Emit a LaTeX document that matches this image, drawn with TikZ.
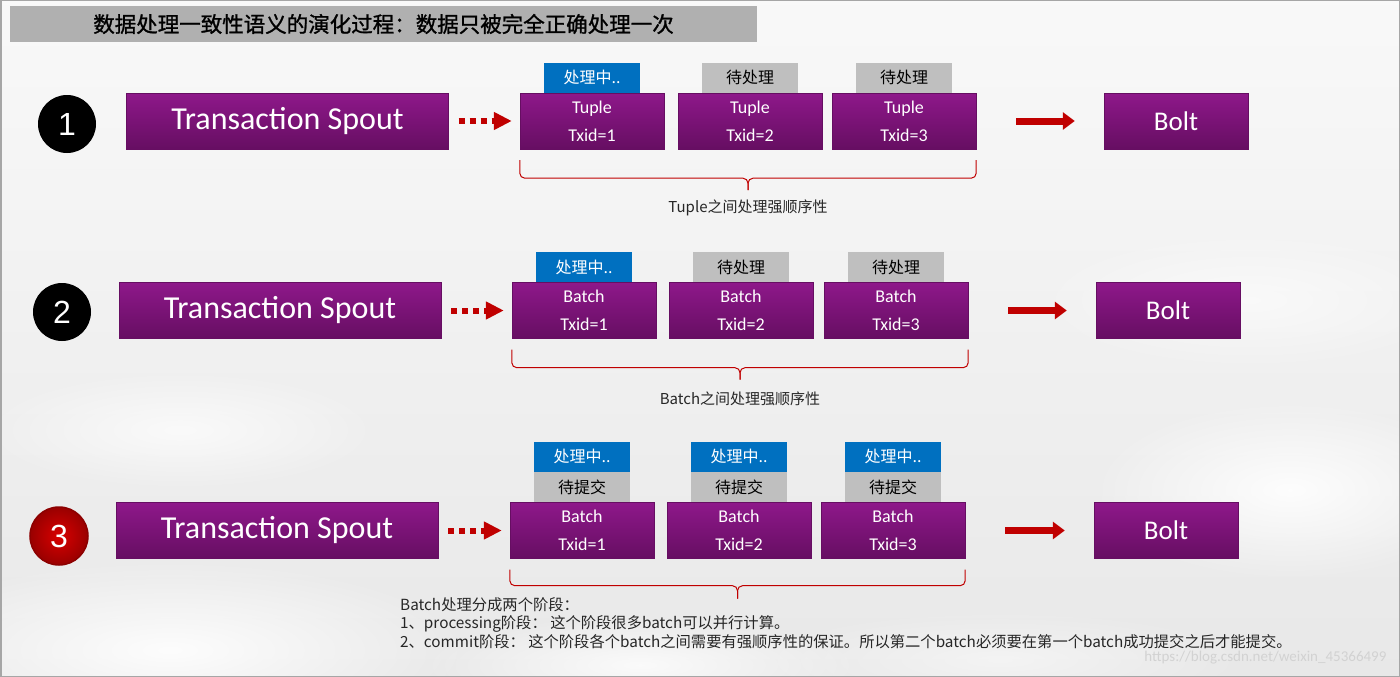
\documentclass[tikz,border=0pt]{standalone}
\usepackage{fontspec}
\setmainfont{Carlito}
\newfontfamily\cjk{Noto Sans CJK SC}
\newfontfamily\cjkhead[FakeBold=1.2]{Noto Sans CJK SC}
\newfontfamily\numfont{Liberation Sans}
\usepackage{xcolor}
\usepackage{tikz}
\usetikzlibrary{arrows.meta, positioning, calc, fadings}

\definecolor{purpTop}{RGB}{142,24,138}
\definecolor{purpBot}{RGB}{102,14,98}
\definecolor{tagBlue}{RGB}{0,112,192}
\definecolor{tagGray}{RGB}{191,191,191}
\definecolor{arrRed}{RGB}{192,0,0}
\definecolor{titleGray}{RGB}{176,176,176}

\tikzfading[name=cloudfade, inner color=transparent!0, outer color=transparent!100]

\begin{document}
\begin{tikzpicture}[x=1pt,y=1pt,
    purp/.style={draw=purpBot,line width=0.4pt,top color=purpTop,
                 bottom color=purpBot,text=white,inner sep=0pt},
    spout/.style={purp,minimum width=322pt,minimum height=56pt,
                  font=\fontsize{32}{32}\selectfont},
    bolt/.style={purp,minimum width=144pt,minimum height=56pt,
                 font=\fontsize{27}{27}\selectfont},
    unit/.style={purp,minimum width=144pt,minimum height=56pt,align=center,
                 font=\fontsize{18}{28}\selectfont},
    tag/.style={minimum width=96pt,minimum height=30pt,inner sep=0pt,
                font=\cjk\fontsize{16}{16}\selectfont},
    tagrun/.style={tag,fill=tagBlue,text=white},
    tagwait/.style={tag,fill=tagGray,text=black},
    num/.style={circle,minimum size=58pt,inner sep=0pt,text=white,
                font=\numfont\fontsize{32}{32}\selectfont},
    dotarr/.style={arrRed,line width=6pt,dash pattern=on 6pt off 5pt,
                   -{Triangle[length=18pt,width=17pt]},
                   shorten <=10pt,shorten >=8pt},
    boltarr/.style={arrRed,line width=7pt,-{Triangle[length=12pt,width=17pt]},
                    shorten <=40pt,shorten >=29pt},
    brace/.style={arrRed,line width=1pt,rounded corners=5pt},
    note/.style={font=\cjk\fontsize{15}{15}\selectfont,text=black!85},
    cloud/.style={white,path fading=cloudfade}
  ]
    % background, clouds and frame
    \useasboundingbox (0,0) rectangle (1400,-677);
    \fill[top color=gray!5,bottom color=gray!18] (0,0) rectangle (1400,-677);
    \begin{scope}
      \clip (0,0) rectangle (1400,-677);
      \fill[cloud,opacity=.9] (170,-650) ellipse [x radius=300,y radius=90];
      \fill[cloud,opacity=.7] (180,-430) ellipse [x radius=200,y radius=60];
      \fill[cloud,opacity=.8] (640,-665) ellipse [x radius=220,y radius=50];
      \fill[cloud,opacity=.9] (1290,-490) ellipse [x radius=200,y radius=90];
      \fill[cloud,opacity=.6] (1250,-300) ellipse [x radius=220,y radius=70];
      \fill[cloud,opacity=.5] (1000,-660) ellipse [x radius=250,y radius=50];
    \end{scope}
    \draw[gray!70,line width=1.5pt] (0.75,-0.75) rectangle (1399.25,-676.25);

    % title
    \node[fill=titleGray,minimum width=747pt,minimum height=36pt,inner sep=0pt,
          font=\cjkhead\fontsize{21.5}{21.5}\selectfont] (title) at (383.5,-24)
      {数据处理一致性语义的演化过程：数据只被完全正确处理一次};

    % row 1: tuples
    \node[num,fill=black] (n1) at (67,-124) {1};
    \node[spout] (sp1) at (287.5,-121) {Transaction Spout};
    \node[unit] (u11) at (592,-121) {Tuple\\Txid=1};
    \node[unit] (u12) at (750,-121) {Tuple\\Txid=2};
    \node[unit] (u13) at (904,-121) {Tuple\\Txid=3};
    \node[bolt] (bo1) at (1176,-121) {Bolt};
    \node[tagrun,above=0pt of u11] (t11) {处理中..};
    \node[tagwait,above=0pt of u12] (t12) {待处理};
    \node[tagwait,above=0pt of u13] (t13) {待处理};

    \draw[dotarr] (sp1) -- (u11);
    \draw[boltarr] (u13) -- (bo1);

    \coordinate (m1) at ($(u11.south west)!.5!(u13.south east)$);
    \draw[brace] ($(u11.south west)+(0,-11)$) |- ($(m1)+(0,-29)$) -- ++(0,-12);
    \draw[brace] ($(u13.south east)+(0,-11)$) |- ($(m1)+(0,-29)$) -- ++(0,-12);
    \node[note] (l1) at ($(m1)+(0,-59)$) {Tuple之间处理强顺序性};

    % row 2: batches
    \node[num,fill=black] (n2) at (62,-312) {2};
    \node[spout] (sp2) at (280,-310.5) {Transaction Spout};
    \node[unit] (u21) at (584,-310.5) {Batch\\Txid=1};
    \node[unit] (u22) at (741,-310.5) {Batch\\Txid=2};
    \node[unit] (u23) at (896,-310.5) {Batch\\Txid=3};
    \node[bolt] (bo2) at (1168,-310.5) {Bolt};
    \node[tagrun,above=0pt of u21] (t21) {处理中..};
    \node[tagwait,above=0pt of u22] (t22) {待处理};
    \node[tagwait,above=0pt of u23] (t23) {待处理};

    \draw[dotarr] (sp2) -- (u21);
    \draw[boltarr] (u23) -- (bo2);

    \coordinate (m2) at ($(u21.south west)!.5!(u23.south east)$);
    \draw[brace] ($(u21.south west)+(0,-11)$) |- ($(m2)+(0,-29)$) -- ++(0,-12);
    \draw[brace] ($(u23.south east)+(0,-11)$) |- ($(m2)+(0,-29)$) -- ++(0,-12);
    \node[note] (l2) at ($(m2)+(0,-60)$) {Batch之间处理强顺序性};

    % row 3: processing + commit
    \node[num,draw=red!55!black,line width=1.5pt,inner color=red!85!black,
          outer color=red!60!black] (n3) at (59,-536) {3};
    \node[spout] (sp3) at (277,-530.5) {Transaction Spout};
    \node[unit] (u31) at (582,-530.5) {Batch\\Txid=1};
    \node[unit] (u32) at (739,-530.5) {Batch\\Txid=2};
    \node[unit] (u33) at (893,-530.5) {Batch\\Txid=3};
    \node[bolt] (bo3) at (1166,-530.5) {Bolt};
    \node[tagwait,above=0pt of u31] (w31) {待提交};
    \node[tagwait,above=0pt of u32] (w32) {待提交};
    \node[tagwait,above=0pt of u33] (w33) {待提交};
    \node[tagrun,above=0pt of w31] (r31) {处理中..};
    \node[tagrun,above=0pt of w32] (r32) {处理中..};
    \node[tagrun,above=0pt of w33] (r33) {处理中..};

    \draw[dotarr] (sp3) -- (u31);
    \draw[boltarr] (u33) -- (bo3);

    \coordinate (m3) at ($(u31.south west)!.5!(u33.south east)$);
    \draw[brace] ($(u31.south west)+(0,-11)$) |- ($(m3)+(0,-27)$) -- ++(0,-13);
    \draw[brace] ($(u33.south east)+(0,-11)$) |- ($(m3)+(0,-27)$) -- ++(0,-13);
    \node[note,anchor=north west,align=left,inner sep=0pt,
          font=\cjk\fontsize{15.3}{18.5}\selectfont] (l3) at (400,-597)
      {Batch处理分成两个阶段：\\
       1、processing阶段： 这个阶段很多batch可以并行计算。\\
       2、commit阶段： 这个阶段各个batch之间需要有强顺序性的保证。所以第二个batch必须要在第一个batch成功提交之后才能提交。};

    \node[anchor=east,font=\fontsize{15}{15}\selectfont,text=white!65!gray]
      (wm) at (1390,-658) {https://blog.csdn.net/weixin\_45366499};
  \end{tikzpicture}
\end{document}
